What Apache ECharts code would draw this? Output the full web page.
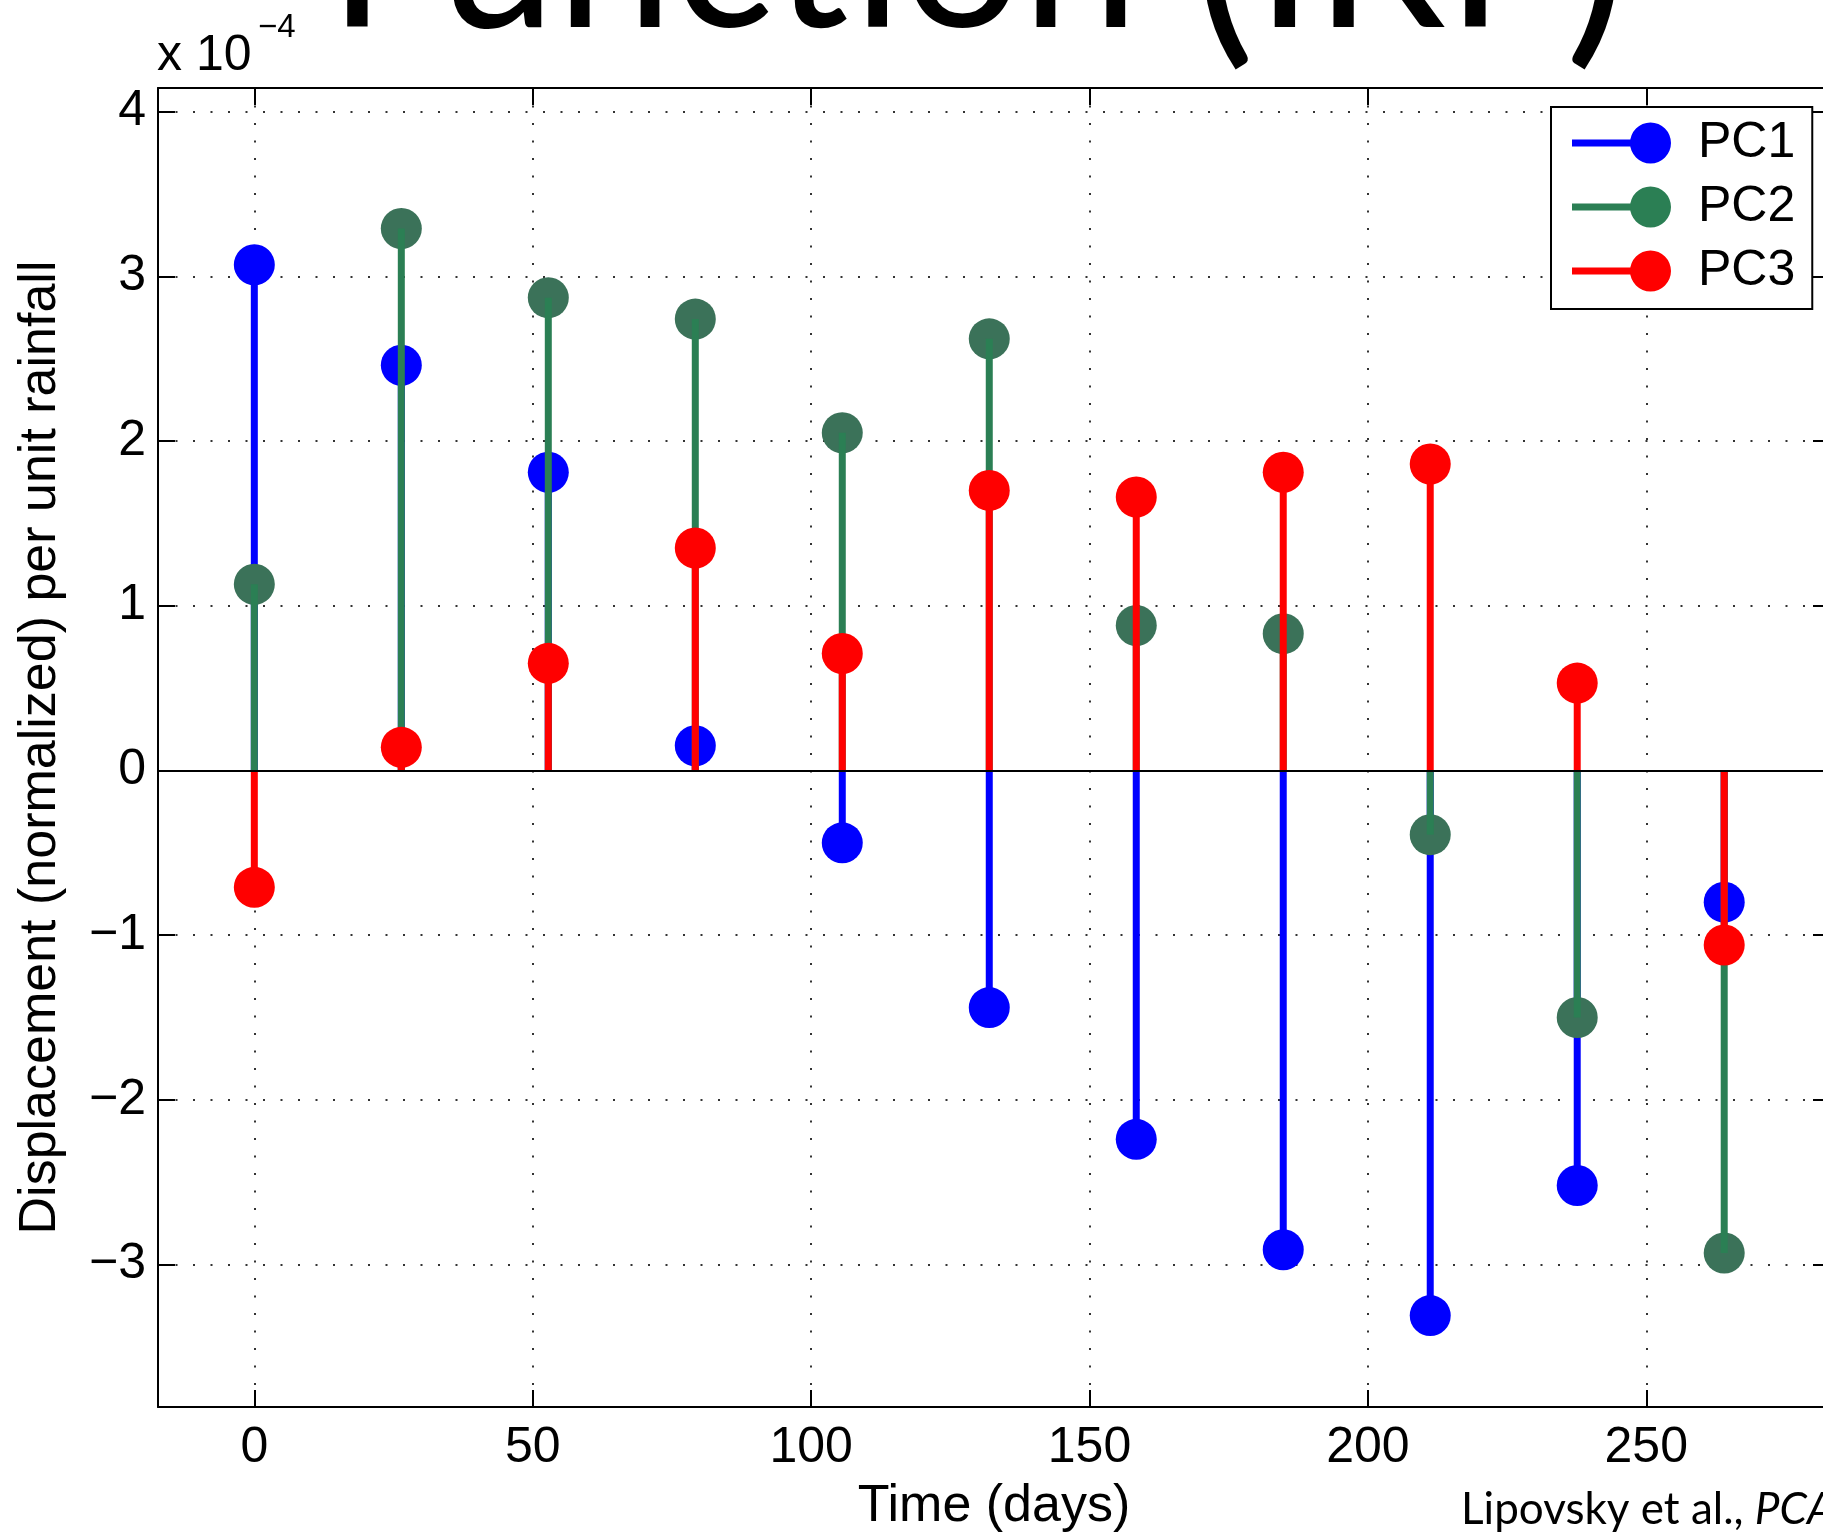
<!DOCTYPE html>
<html>
<head>
<meta charset="utf-8">
<script src="https://cdn.jsdelivr.net/npm/echarts@6/dist/echarts.min.js"></script>
<style>
  html, body { margin: 0; padding: 0; background: #fff; }
  #chart { width: 1823px; height: 1533px; }
</style>
</head>
<body>
<div id="chart"></div>
<script>
const font = "'Liberation Sans', Arial, sans-serif"

// lag time of each stem (days)
const days = [0, 26.4, 52.8, 79.2, 105.6, 132, 158.4, 184.8, 211.2, 237.6, 264]
// impulse response, x 10^-4
const pc1 = [3.07, 2.46, 1.81, 0.15, -0.44, -1.44, -2.24, -2.91, -3.31, -2.52, -0.80]
const pc2 = [1.13, 3.29, 2.87, 2.74, 2.05, 2.62, 0.88, 0.83, -0.39, -1.50, -2.93]
const pc3 = [-0.71, 0.14, 0.65, 1.35, 0.71, 1.70, 1.66, 1.81, 1.86, 0.53, -1.06]
const names = ['PC1', 'PC2', 'PC3']
const lineColors = ['#0000ff', '#2b7f54', '#ff0000']
const markerColors = ['#0000ff', '#3b7259', '#ff0000']

const xMin = -17.3, xMax = 283
const yMin = -3.865, yMax = 4.143

// stem line + round marker, same look as the plot
const legendIcon = 'path://M0,17h60v7h-60z M58,20.5a20.5,20.5 0 1,1 41,0a20.5,20.5 0 1,1 -41,0z'

const intLabel = v => Number.isInteger(v) ? String(v).replace('-', '\u2212') : ''

const stemSeries = (i, values) => {
  const s = {
    type: 'custom',
    name: names[i],
    data: days.map((d, k) => [d, values[k]]),
    itemStyle: { color: lineColors[i] },
    renderItem: (params, api) => {
      const base = api.coord([api.value(0), 0])
      const tip = api.coord([api.value(0), api.value(1)])
      return {
        type: 'group',
        children: [
          { type: 'circle', shape: { cx: tip[0], cy: tip[1], r: 20.5 }, style: { fill: markerColors[i] } },
          { type: 'line', shape: { x1: base[0], y1: base[1], x2: tip[0], y2: tip[1] },
            style: { stroke: lineColors[i], lineWidth: 7 } }
        ]
      }
    }
  }
  if (i === 0) {
    s.markLine = {
      silent: true, symbol: 'none', label: { show: false },
      lineStyle: { color: '#000', width: 2, type: 'solid' },
      data: [{ yAxis: 0 }]
    }
  }
  return s
}

const frameX = pos => ({
  type: 'value', position: pos, min: xMin, max: xMax, splitNumber: 6,
  axisLine: { show: true, onZero: false, lineStyle: { color: '#000', width: 2 } },
  axisTick: { show: true, inside: true, length: 17, lineStyle: { color: '#000', width: 2 } },
  axisLabel: { show: false },
  splitLine: { show: false }
})
const frameY = pos => ({
  type: 'value', position: pos, min: yMin, max: yMax, splitNumber: 8,
  axisLine: { show: true, onZero: false, lineStyle: { color: '#000', width: 2 } },
  axisTick: { show: true, inside: true, length: 17, lineStyle: { color: '#000', width: 2 } },
  axisLabel: { show: false },
  splitLine: { show: false }
})

const gridDots = { show: true, lineStyle: { color: '#333', width: 2, type: [2, 15.5] } }

const xBottom = Object.assign(frameX('bottom'), {
  axisLabel: { show: true, fontSize: 50, fontFamily: font, color: '#000', margin: 16,
    showMinLabel: false, showMaxLabel: false, formatter: intLabel },
  splitLine: gridDots,
  name: 'Time (days)', nameLocation: 'middle', nameGap: 74,
  nameTextStyle: { fontSize: 52, fontFamily: font, color: '#000' }
})
const yLeft = Object.assign(frameY('left'), {
  axisLabel: { show: true, fontSize: 50, fontFamily: font, color: '#000', margin: 12,
    showMinLabel: false, showMaxLabel: false, formatter: intLabel },
  splitLine: gridDots,
  name: 'Displacement (normalized) per unit rainfall', nameLocation: 'middle', nameGap: 91,
  nameTextStyle: { fontSize: 52, fontFamily: font, color: '#000' }
})

const chart = echarts.init(document.getElementById('chart'))
chart.setOption({
  animation: false,
  backgroundColor: '#fff',
  grid: { left: 158, top: 88, width: 1672, height: 1319, outerBoundsMode: 'none', containLabel: false },
  xAxis: [xBottom, frameX('top')],
  yAxis: [yLeft, frameY('right')],
  legend: {
    orient: 'vertical', left: 1551, top: 107,
    padding: [11, 17, 13, 21], itemGap: 14, itemWidth: 99, itemHeight: 41,
    backgroundColor: '#fff', borderColor: '#000', borderWidth: 2,
    selectedMode: false,
    data: names.map(n => ({ name: n, icon: legendIcon })),
    formatter: n => '{t|' + n + '}',
    textStyle: { rich: { t: { fontSize: 50, fontFamily: font, color: '#000', padding: [0, 0, 0, 22] } } }
  },
  graphic: [
    // slide title, cut off by the top edge
    { type: 'text', silent: true, style: { x: 328, y: -41,
      text: '{a|Function }{p|(}{a|IRF}{p|)}',
      rich: { a: { fontSize: 210, fontFamily: 'Lato, sans-serif', fill: '#000' },
              p: { fontSize: 235, fontFamily: 'Lato, sans-serif', fill: '#000' } },
      textAlign: 'left', verticalAlign: 'middle' } },
    { type: 'text', silent: true, style: { x: 157, y: 56, text: 'x 10',
      font: '50px ' + font, fill: '#000', textAlign: 'left', verticalAlign: 'middle' } },
    { type: 'text', silent: true, style: { x: 258, y: 28, text: '\u22124',
      font: '33px ' + font, fill: '#000', textAlign: 'left', verticalAlign: 'middle' } },
    { type: 'text', silent: true, style: { x: 1461, y: 1510,
      text: '{r|Lipovsky et al., }{i|PCA}',
      rich: { r: { fontSize: 44, fontFamily: 'Lato, sans-serif', fill: '#000' },
              i: { fontSize: 44, fontFamily: 'Lato, sans-serif', fontStyle: 'italic', fill: '#000' } },
      textAlign: 'left', verticalAlign: 'middle' } }
  ],
  series: [stemSeries(0, pc1), stemSeries(1, pc2), stemSeries(2, pc3)]
})
</script>
</body>
</html>
